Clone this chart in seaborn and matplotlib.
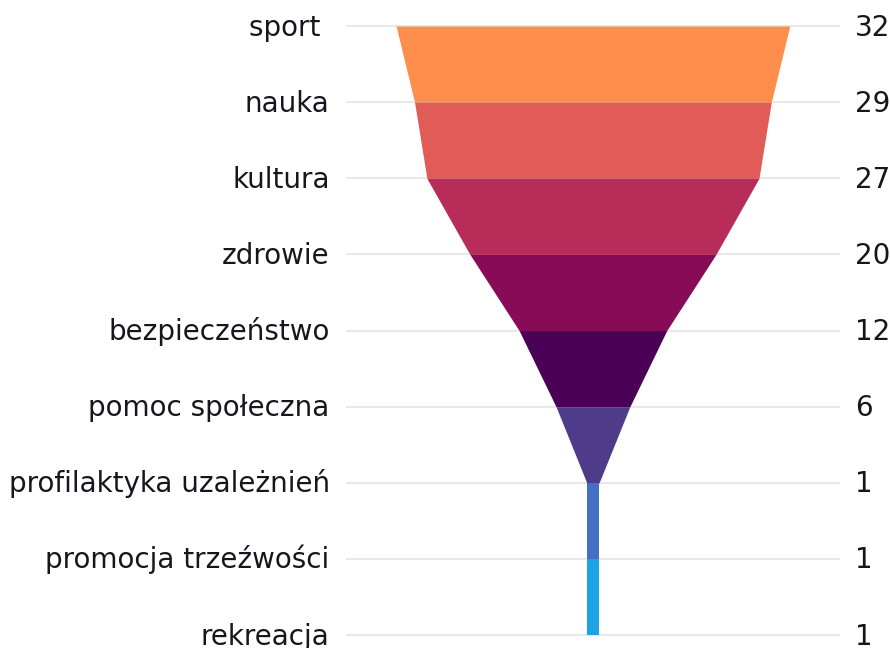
import matplotlib
matplotlib.use("Agg")
import matplotlib.pyplot as plt
import seaborn as sns

categories = ["sport ", "nauka", "kultura", "zdrowie", "bezpieczeństwo",
              "pomoc społeczna", "profilaktyka uzależnień",
              "promocja trzeźwości", "rekreacja"]
values = [32, 29, 27, 20, 12, 6, 1, 1, 1]
band_colors = ["#FE8E4C", "#E15B57", "#B82C5A", "#880B57",
               "#4A0055", "#4E3B8A", "#4470C4", "#1FA3E5"]


def draw():
    sns.set_theme(style="white")
    plt.rcParams['font.family'] = ['DejaVu Sans']
    fig = plt.figure(figsize=(8.9, 6.48), dpi=100)
    ax = fig.add_axes([0, 0, 1, 1])
    # funnel centred at x=0, one unit of value = 12.3 px
    ax.set_xlim(-48.2, 24.15)
    ax.set_ylim(8.17, -0.342)
    ax.axis("off")

    n = len(categories)
    ax.hlines(range(n), -20.1, 20.1, color="#e8e8e8", lw=1.5, zorder=1)

    for i in range(n - 1):
        top, bot = values[i], values[i + 1]
        ax.fill_betweenx([i, i + 1], [-top / 2, -bot / 2], [top / 2, bot / 2],
                         color=band_colors[i], lw=0, zorder=2)

    for i, (name, v) in enumerate(zip(categories, values)):
        ax.text(-21.4, i + 0.125, name, ha="right", va="baseline",
                fontsize=20, color="#16161e")
        ax.text(21.3, i + 0.125, str(v), ha="left", va="baseline",
                fontsize=20, color="#16161e")

    fig.savefig("out.png", dpi=100)


if __name__ == "__main__":
    draw()
